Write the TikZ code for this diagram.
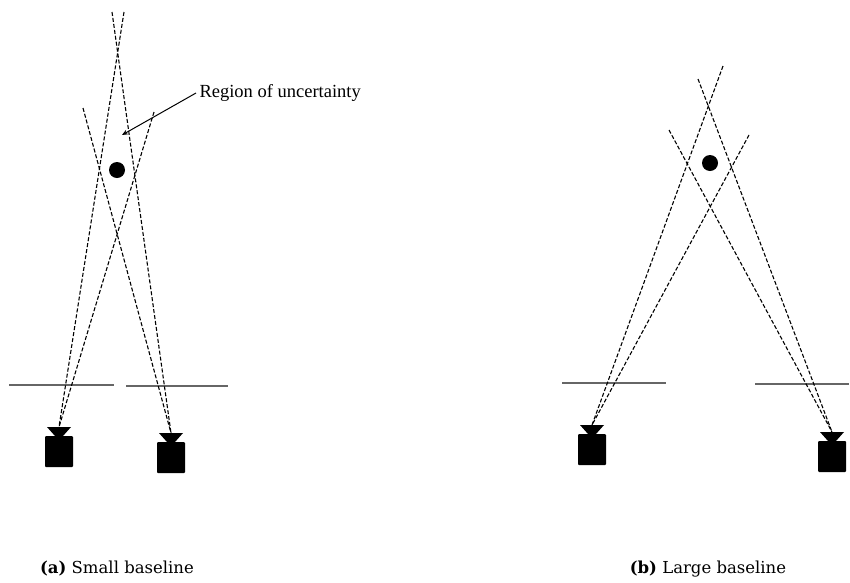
\documentclass[tikz,border=0pt]{standalone}
\usepackage{fontspec}
\setmainfont{DejaVu Serif}
\newfontfamily\notefont{Liberation Serif}
\usetikzlibrary{arrows.meta}
\tikzset{
  ray/.style={dash pattern=on 4pt off 2pt, line width=1.1pt},
  plane/.style={line width=1.4pt, draw=black!60},
  target/.style={circle, fill=black, inner sep=0pt, minimum size=16pt},
  cam/.pic={
    \fill (-12,0) -- (12,0) -- (4,9) -- (-4,9) -- cycle;
    \fill[rounded corners=1pt] (-14,9) rectangle (14,40);
  },
  sub/.style={font=\fontsize{16.5}{18}\selectfont},
}

\begin{document}
\begin{tikzpicture}[x=1pt, y=-1pt]
  \useasboundingbox (0,0) rectangle (850,582);

  % (a) small baseline
  \coordinate (a-cl) at (59,427);
  \coordinate (a-cr) at (171,433);
  \coordinate (a-r1) at (124,12);
  \coordinate (a-r2) at (154,112);
  \coordinate (a-r3) at (112,12);
  \coordinate (a-r4) at (83,108);
  \draw[plane] (9,385) -- (114,385);
  \draw[plane] (126,386) -- (228,386);
  \draw[ray] (a-r1) -- (a-cl); \draw[ray] (a-r2) -- (a-cl);
  \draw[ray] (a-r3) -- (a-cr); \draw[ray] (a-r4) -- (a-cr);
  \pic at (a-cl) {cam};
  \pic at (a-cr) {cam};
  \node[target] (a-obj) at (117,170) {};
  \node[font=\notefont\fontsize{18.5}{20}\selectfont, anchor=west] (unc) at (196,93) {Region of uncertainty};
  \coordinate (unc-pt) at (122,135);
  \draw[-{Stealth[length=6pt, width=5pt]}, line width=1pt] (unc.west) -- (unc-pt);
  \node[sub] (cap-a) at (117,569) {\textbf{(a)} Small baseline};

  % (b) large baseline
  \coordinate (b-cl) at (592,425);
  \coordinate (b-cr) at (832,432);
  \coordinate (b-r1) at (723,66);
  \coordinate (b-r2) at (749,135);
  \coordinate (b-r3) at (698,79);
  \coordinate (b-r4) at (669,130);
  \draw[plane] (562,383) -- (666,383);
  \draw[plane] (755,384) -- (849,384);
  \draw[ray] (b-r1) -- (b-cl); \draw[ray] (b-r2) -- (b-cl);
  \draw[ray] (b-r3) -- (b-cr); \draw[ray] (b-r4) -- (b-cr);
  \pic at (b-cl) {cam};
  \pic at (b-cr) {cam};
  \node[target] (b-obj) at (710,163) {};
  \node[sub] (cap-b) at (708,569) {\textbf{(b)} Large baseline};
\end{tikzpicture}
\end{document}
